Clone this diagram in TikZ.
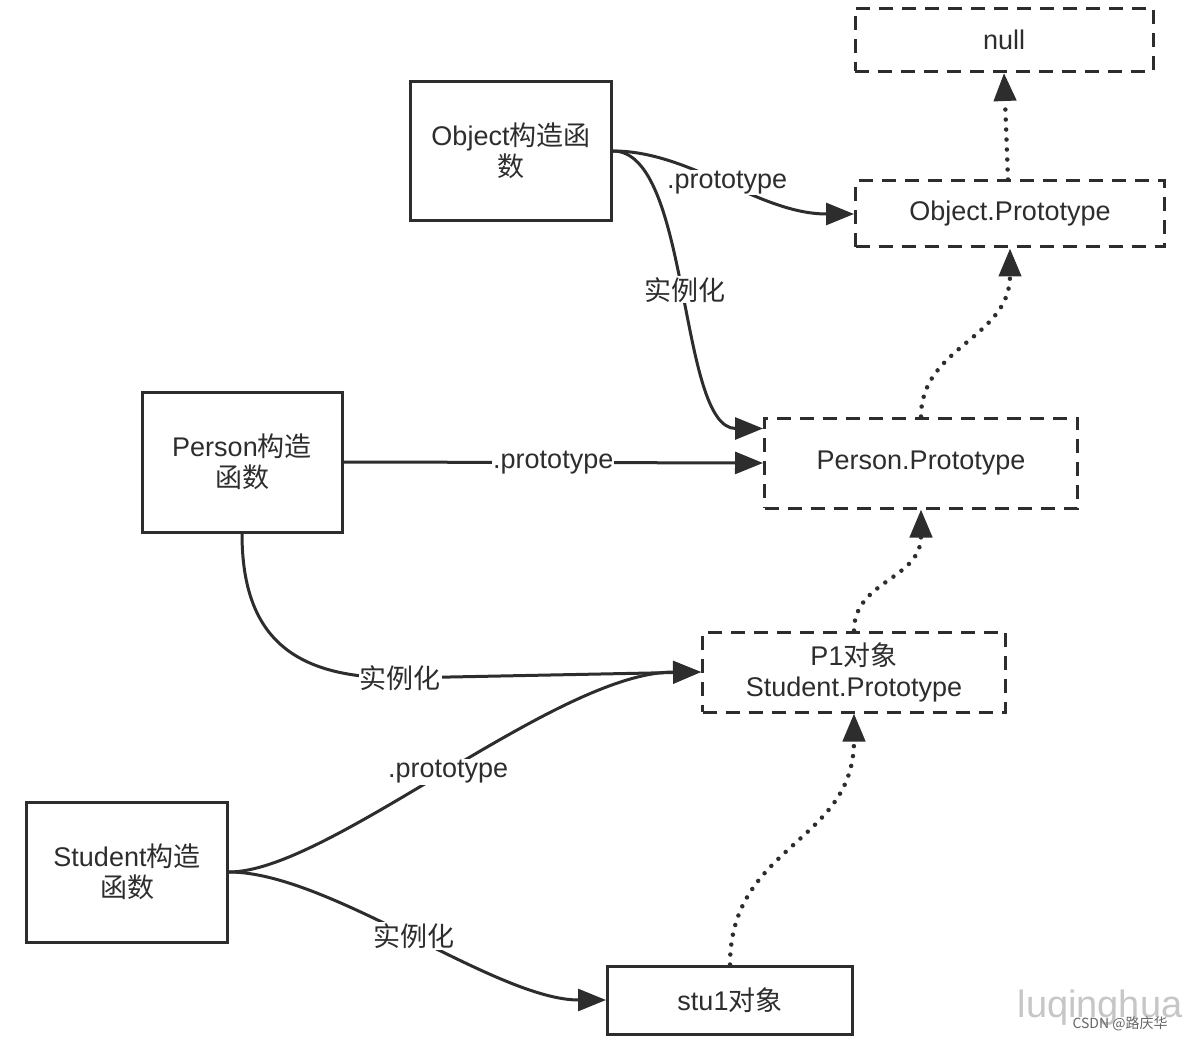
\documentclass[tikz,border=0pt]{standalone}
\usepackage{fontspec}
\setmainfont{Liberation Sans}
\newfontfamily\cjk{Noto Sans CJK SC}
\usetikzlibrary{arrows.meta}
\definecolor{ink}{RGB}{45,45,45}
\newcommand{\fsz}{\fontsize{27}{31}\selectfont}
\begin{document}
\begin{tikzpicture}[x=1pt,y=-1pt,
  solidbox/.style={draw=ink, line width=3pt, align=center, font=\fsz, text=ink},
  dashbox/.style={solidbox, dash pattern=on 14pt off 9pt},
  link/.style={draw=ink, line width=3pt, -{Triangle[length=28pt,width=22pt]}},
  dotlink/.style={draw=ink, line width=4.5pt, line cap=round, dash pattern=on 0pt off 10pt, -{Triangle[length=28pt,width=22pt]}},
  lbl/.style={fill=white, inner sep=1pt, font=\fsz, text=ink}]
\fill[white] (0,0) rectangle (1185,1040);
\useasboundingbox (0,0) rectangle (1185,1040);

\node[solidbox, minimum width=201pt, minimum height=139pt] (oc) at (511,151) {Object{\cjk 构造函}\\{\cjk 数}};
\node[dashbox, minimum width=298pt, minimum height=63pt] (null) at (1004,40) {null};
\node[dashbox, minimum width=309pt, minimum height=66pt] (op) at (1010,214) {Object.Prototype};
\node[dashbox, minimum width=313pt, minimum height=90pt] (pp) at (921,463) {Person.Prototype};
\node[solidbox, minimum width=200pt, minimum height=140pt] (pc) at (242,462) {Person{\cjk 构造}\\{\cjk 函数}};
\node[dashbox, minimum width=303pt, minimum height=80pt] (sp) at (854,672) {P1{\cjk 对象}\\Student.Prototype};
\node[solidbox, minimum width=201pt, minimum height=140pt] (sc) at (127,872) {Student{\cjk 构造}\\{\cjk 函数}};
\node[solidbox, minimum width=245pt, minimum height=68pt] (stu) at (730,1000) {stu1{\cjk 对象}};

\draw[link] (oc.east) .. controls +(78,0) and +(-95,0) .. (op.west) node[lbl, pos=0.5] {.prototype};
\draw[link] (oc.east) .. controls +(78,0) and +(-85,0) .. ([yshift=-12pt]pp.north west) node[lbl, pos=0.5] {\cjk 实例化};
\draw[link] (pc.east) -- (pp.west) node[lbl, pos=0.5] {.prototype};
\draw[link] (pc.south) .. controls +(0,110) and +(-100,0) .. (400,678) node[lbl] {\cjk 实例化} -- (sp.west);
\draw[link] (sc.east) .. controls +(100,0) and +(-145,0) .. (sp.west) node[lbl, pos=0.5] {.prototype};
\draw[link] (sc.east) .. controls +(100,0) and +(-110,0) .. (stu.west) node[lbl, pos=0.5] {\cjk 实例化};

\draw[dotlink] (stu.north) .. controls +(0,-120) and +(0,130) .. (sp.south);
\draw[dotlink] (sp.north) .. controls +(0,-50) and +(0,70) .. (pp.south);
\draw[dotlink] (pp.north) .. controls +(0,-70) and +(0,90) .. (op.south);
\draw[dotlink] ([xshift=-2pt]op.north) -- (null.south);

\node[text=gray!45, font=\fontsize{38}{38}\selectfont, inner sep=0pt] (wm) at (1100,1008) {luqinghua};
\node[text=gray!80!black, font=\fontsize{14}{14}\selectfont\cjk, inner sep=0pt] (wm2) at (1120,1024) {CSDN @路庆华};
\end{tikzpicture}
\end{document}
